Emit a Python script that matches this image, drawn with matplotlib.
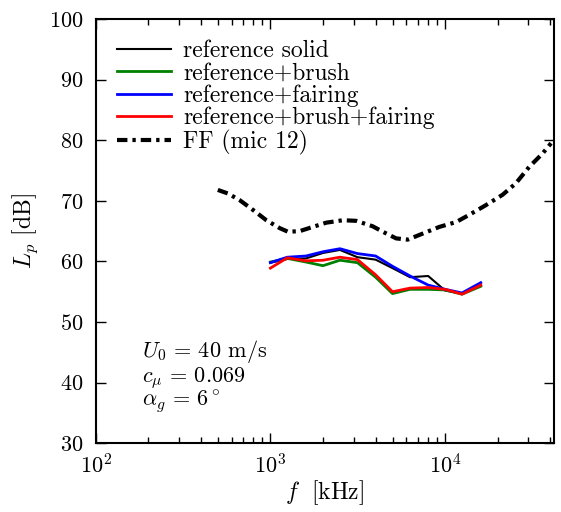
import numpy as np
import matplotlib
matplotlib.use('Agg')
import matplotlib.pyplot as plt

plt.rcParams['font.family'] = 'serif'
plt.rcParams['font.serif'] = ['cmr10', 'DejaVu Serif']
plt.rcParams['mathtext.fontset'] = 'cm'
plt.rcParams['axes.formatter.use_mathtext'] = True
plt.rcParams['axes.unicode_minus'] = False

# 1/3 octave band centres [Hz]
f_bands = [1000, 1250, 1600, 2000, 2500, 3150, 4000, 5000, 6300, 8000, 10000, 12500, 16000]

L_ref = [59.8, 60.4, 60.5, 61.4, 61.9, 60.7, 60.3, 58.9, 57.4, 57.6, 55.2, 54.7, 56.1]
L_brush = [59.9, 60.5, 59.9, 59.3, 60.2, 59.8, 57.4, 54.7, 55.4, 55.4, 55.3, 54.6, 55.9]
L_fairing = [59.8, 60.7, 60.9, 61.6, 62.1, 61.3, 60.9, 59.2, 57.6, 56.1, 55.4, 54.8, 56.5]
L_both = [58.9, 60.6, 60.1, 60.2, 60.7, 60.3, 57.8, 55.0, 55.6, 55.7, 55.4, 54.6, 56.1]

# far field mic 12
f_ff = [500, 573, 668, 795, 948, 1130, 1260, 1470, 1750, 2090, 2600, 3100, 3850, 4400,
        5250, 6110, 7450, 9270, 11560, 13760, 17150, 21330, 25420, 30300, 36100, 40400]
L_ff = [71.8, 71.2, 70.1, 68.5, 66.8, 65.5, 64.9, 65.0, 65.7, 66.4, 66.8, 66.7, 65.8, 64.9,
        63.8, 63.6, 64.6, 65.7, 66.5, 67.7, 69.3, 71.0, 72.9, 75.6, 77.8, 79.5]

fig = plt.figure(figsize=(5.61, 5.12), dpi=100)
ax = fig.add_axes([0.1706, 0.1342, 0.8169, 0.8287])

ax.plot(f_bands, L_ref, color='k', lw=1.5, label='reference solid')
ax.plot(f_bands, L_brush, color='green', lw=2, label='reference+brush')
ax.plot(f_bands, L_fairing, color='blue', lw=2, label='reference+fairing')
ax.plot(f_bands, L_both, color='red', lw=2, label='reference+brush+fairing')
ax.plot(f_ff, L_ff, color='k', lw=3, dashes=(2.5, 1.2, 0.8, 1.2), label='FF (mic 12)')

ax.set_xscale('log')
ax.set_xlim(100, 42000)
ax.set_ylim(30, 100)
ax.set_yticks([30, 40, 50, 60, 70, 80, 90, 100])

ax.set_xlabel(r'$f\ $ [kHz]', fontsize=17, labelpad=1)
ax.set_ylabel(r'$L_p$ [dB]', fontsize=17, labelpad=6)

for s in ax.spines.values():
    s.set_linewidth(1.5)
ax.tick_params(which='both', direction='in', top=True, right=True, labelsize=16, width=1)
ax.tick_params(which='major', length=7)
ax.tick_params(which='minor', length=4)
ax.tick_params(axis='y', pad=9)
ax.tick_params(axis='x', pad=7)

ax.legend(loc='upper left', frameon=False, fontsize=17, handlelength=2.3,
          labelspacing=0.0, handletextpad=0.5, borderaxespad=0.5, borderpad=0.4)

ax.text(0.102, 0.204, r'$U_0 \,=\, 40$ m/s', transform=ax.transAxes, fontsize=16, va='baseline')
ax.text(0.102, 0.145, r'$c_\mu \,=\, 0.069$', transform=ax.transAxes, fontsize=16, va='baseline')
ax.text(0.102, 0.088, r'$\alpha_g \,=\, 6^\circ$', transform=ax.transAxes, fontsize=16, va='baseline')

plt.savefig('out.png', dpi=100)
